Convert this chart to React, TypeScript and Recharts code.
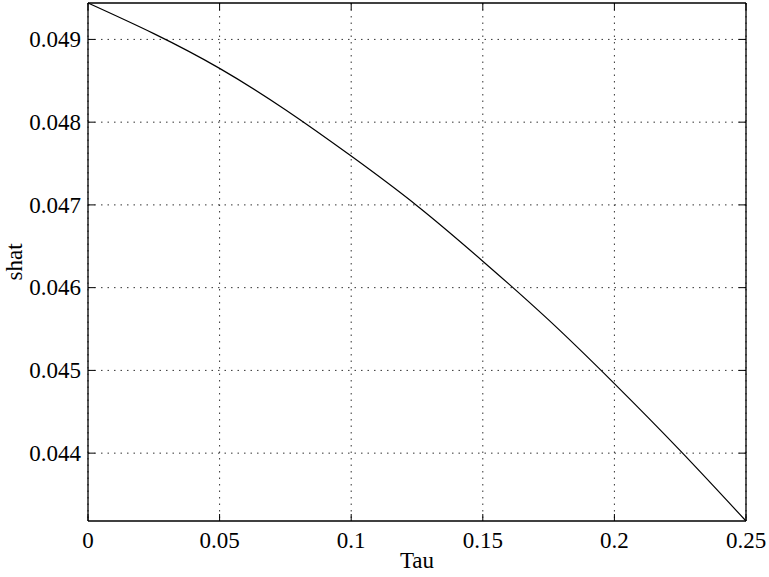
import React from "react";
import {
  LineChart,
  Line,
  XAxis,
  YAxis,
  CartesianGrid,
  ReferenceLine,
} from "recharts";

// values
const tau = [0, 0.025, 0.05, 0.075, 0.1, 0.125, 0.15, 0.175, 0.2, 0.225, 0.25];
const shat = [
  0.04944, 0.04907, 0.04865, 0.04815, 0.04759, 0.04699, 0.04632, 0.04561,
  0.04484, 0.04403, 0.04318,
];
const xTicks = [0, 0.05, 0.1, 0.15, 0.2, 0.25];
const yTicks = [0.044, 0.045, 0.046, 0.047, 0.048, 0.049];
const xTickLabels = ["0", "0.05", "0.1", "0.15", "0.2", "0.25"];
const yTickLabels = ["0.044", "0.045", "0.046", "0.047", "0.048", "0.049"];

const data = tau.map((t, i) => ({ tau: t, shat: shat[i] }));
const xDomain = [tau[0], tau[tau.length - 1]];
const yDomain = [Math.min(...shat), Math.max(...shat)];

const W = 769;
const H = 577;
const LEFT = 88;
const RIGHT = 746;
const TOP = 3;
const BOTTOM = 521;
const TICK = 7;
const FS = 23;
const FONT = "Liberation Serif, serif";
const axisStyle = { stroke: "#000", strokeWidth: 1.3 };

const xLabel = (v: number) => {
  const i = xTicks.indexOf(v);
  return i >= 0 ? xTickLabels[i] : String(v);
};
const yLabel = (v: number) => {
  const i = yTicks.findIndex((t) => Math.abs(t - v) < 1e-9);
  return i >= 0 ? yTickLabels[i] : String(v);
};

// inward tick marks on both sides, matlab style
const renderXTick = (p: any) => (
  <g key={`xt-${p.index}`}>
    <line x1={p.x} x2={p.x} y1={BOTTOM} y2={BOTTOM - TICK} stroke="#000" />
    <line x1={p.x} x2={p.x} y1={TOP} y2={TOP + TICK} stroke="#000" />
    <text
      x={p.x}
      y={BOTTOM + 11}
      dy="0.71em"
      textAnchor="middle"
      fontSize={FS}
      fontFamily={FONT}
      fill="#000"
    >
      {xLabel(p.payload.value)}
    </text>
  </g>
);

const renderYTick = (p: any) => (
  <g key={`yt-${p.index}`}>
    <line x1={LEFT} x2={LEFT + TICK} y1={p.y} y2={p.y} stroke="#000" />
    <line x1={RIGHT} x2={RIGHT - TICK} y1={p.y} y2={p.y} stroke="#000" />
    <text
      x={LEFT - 7}
      y={p.y}
      dy="0.34em"
      textAnchor="end"
      fontSize={FS}
      fontFamily={FONT}
      fill="#000"
    >
      {yLabel(p.payload.value)}
    </text>
  </g>
);

export default function App() {
  return (
    <div style={{ position: "absolute", left: 0, top: 0, background: "#fff" }}>
      <LineChart
        width={W}
        height={H}
        data={data}
        margin={{ top: TOP, right: W - RIGHT, left: 0, bottom: 0 }}
      >
        <CartesianGrid
          stroke="#333"
          strokeDasharray="1.5 5"
          horizontalValues={yTicks}
          verticalValues={xTicks}
        />
        <XAxis
          dataKey="tau"
          type="number"
          domain={xDomain}
          ticks={xTicks}
          height={H - BOTTOM}
          tickSize={0}
          axisLine={axisStyle}
          tickLine={false}
          tick={renderXTick}
          label={{
            value: "Tau",
            position: "insideBottom",
            offset: 9,
            fontSize: FS,
            fontFamily: FONT,
            fill: "#000",
          }}
        />
        <YAxis
          type="number"
          domain={yDomain}
          ticks={yTicks}
          width={LEFT}
          tickSize={0}
          axisLine={axisStyle}
          tickLine={false}
          tick={renderYTick}
          label={{
            value: "shat",
            angle: -90,
            position: "insideLeft",
            offset: 14,
            fontSize: FS,
            fontFamily: FONT,
            fill: "#000",
            textAnchor: "middle",
          }}
        />
        <ReferenceLine y={yDomain[1]} stroke="#000" strokeWidth={1.3} />
        <ReferenceLine x={xDomain[1]} stroke="#000" strokeWidth={1.3} />
        <Line
          type="natural"
          dataKey="shat"
          stroke="#000"
          strokeWidth={1.2}
          dot={false}
          isAnimationActive={false}
        />
      </LineChart>
    </div>
  );
}
